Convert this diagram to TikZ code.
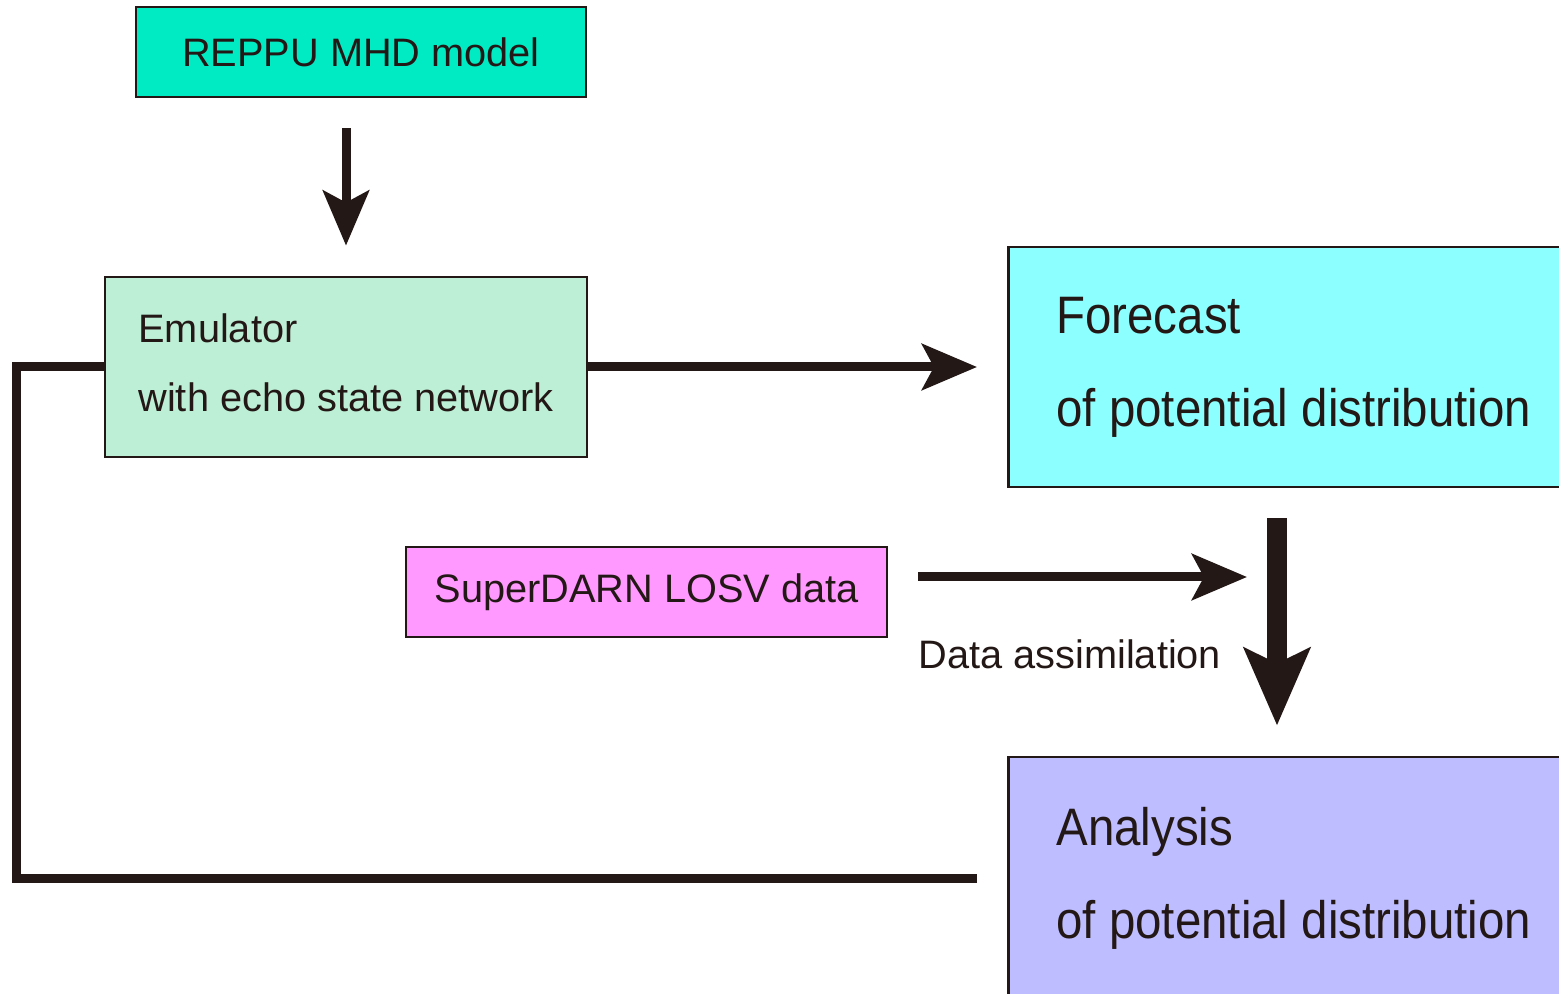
\documentclass[tikz,border=0pt]{standalone}
\usepackage{fontspec}
\setmainfont{Liberation Sans}
\newfontfamily\condfont[FakeStretch=0.9]{Liberation Sans}
\usetikzlibrary{positioning, arrows.meta}
\definecolor{inkdark}{HTML}{231815}
\definecolor{mhdgreen}{HTML}{00EBC4}
\definecolor{emugreen}{HTML}{BDEED6}
\definecolor{forecastcyan}{HTML}{8CFFFF}
\definecolor{darnpink}{HTML}{FF99FF}
\definecolor{analysisblue}{HTML}{BDBDFF}
\tikzset{
	every node/.style={text=inkdark}, % dark ink for all texts
	block/.style={draw=inkdark, line width=0.8pt, inner sep=0pt, font=\fontsize{11.3}{19.6}\selectfont}, % thin framed box
	bigblock/.style={block, anchor=west, align=left, inner xsep=0.48cm, font=\condfont\fontsize{15}{26.5}\selectfont}, % large result boxes
	flow/.style={draw=inkdark, line width=0.09cm, -{Stealth[length=5.5mm, width=4.6mm, inset=1.2mm]}, shorten >=3mm, shorten <=3mm}, % ordinary arrows
	assim/.style={draw=inkdark, line width=0.2cm, -{Stealth[length=7.7mm, width=6.5mm, inset=1.5mm]}, shorten >=3mm, shorten <=3mm}, % thick assimilation arrow
	feedback/.style={draw=inkdark, line width=0.09cm}, % loop back to the emulator
}
\newcommand{\lowstrut}{\rule[-0.8mm]{0pt}{0.8mm}} % a little room below the last line

\begin{document}
\begin{tikzpicture}
	\useasboundingbox (0,0) rectangle (15.59,9.93);

	% boxes
	\node[block, fill=mhdgreen, minimum width=4.5cm, minimum height=0.9cm] (mhd) at (3.61,9.41) {REPPU MHD model};
	\node[block, fill=emugreen, align=left, inner xsep=0.33cm, minimum width=4.82cm, minimum height=1.8cm] (emu) at (3.46,6.26) {Emulator\\with echo state network\lowstrut};
	\node[bigblock, fill=forecastcyan, minimum height=2.4cm] (fore) at (10.07,6.26) {Forecast\\of potential distribution};
	\node[block, fill=darnpink, minimum width=4.81cm, minimum height=0.9cm] (darn) at (6.465,4.01) {SuperDARN LOSV data};
	\node[bigblock, fill=analysisblue, minimum height=2.42cm] (ana) at (10.07,1.15) {Analysis\\of potential distribution};
	\node[anchor=base west, inner sep=0pt, font=\fontsize{11.3}{13.6}\selectfont] (dalabel) at (9.18,3.24) {Data assimilation};

	\coordinate (da) at (12.77,0); % x of the assimilation arrow
	\coordinate (loopx) at (0.165,0); % x of the feedback line

	% connectors
	\draw[flow] (mhd.south -| emu.north) -- (emu.north);
	\draw[flow, shorten <=0pt] (emu) -- (fore);
	\draw[assim] (fore.south -| da) -- (ana.north -| da);
	\draw[flow] ([yshift=1.5mm]darn.east) -- ([yshift=1.5mm]darn.east -| da);
	\draw[feedback] ([xshift=-3mm]ana.west) -- (ana.west -| loopx) |- (emu.west);
\end{tikzpicture}
\end{document}
